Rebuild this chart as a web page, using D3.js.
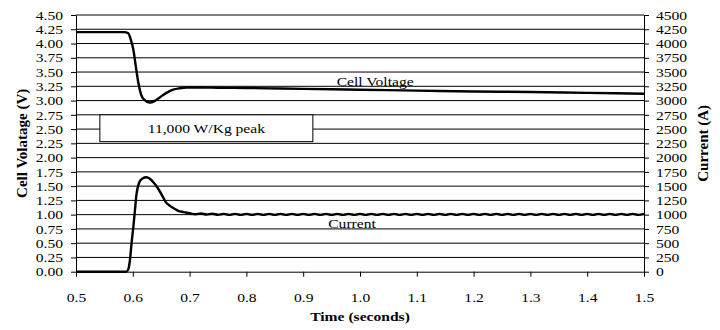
<!DOCTYPE html>
<html>
<head>
<meta charset="utf-8">
<script src="https://cdn.jsdelivr.net/npm/d3@7"></script>
<style>
  body { margin: 0; background: #fff; }
  svg { display: block; font-family: "Liberation Serif", "Times New Roman", serif; }
</style>
</head>
<body>
<div id="chart"></div>
<script>
// voltage trace (seconds, volts)
var voltTime = [0.50, 0.585, 0.592, 0.597, 0.601, 0.606, 0.610, 0.616, 0.622, 0.630, 0.638, 0.648, 0.660, 0.671, 0.683, 0.695, 0.72, 0.75, 0.80, 0.90, 1.00, 1.10, 1.20, 1.30, 1.40, 1.50];
var voltValue = [4.20, 4.20, 4.18, 4.05, 3.89, 3.55, 3.30, 3.07, 3.00, 2.965, 2.99, 3.06, 3.14, 3.19, 3.215, 3.228, 3.23, 3.225, 3.22, 3.205, 3.19, 3.175, 3.16, 3.15, 3.135, 3.12];

// current trace (seconds, amps)
var currTime = [0.50, 0.588, 0.592, 0.595, 0.598, 0.601, 0.604, 0.606, 0.611, 0.617, 0.624, 0.630, 0.637, 0.645, 0.652, 0.658, 0.666, 0.674, 0.680, 0.690,
  0.70, 0.71, 0.72, 0.73, 0.74, 0.75, 0.76, 0.77, 0.78, 0.79, 0.80, 0.81, 0.82, 0.83, 0.84, 0.85, 0.86, 0.87, 0.88, 0.89,
  0.90, 0.91, 0.92, 0.93, 0.94, 0.95, 0.96, 0.97, 0.98, 0.99, 1.00, 1.01, 1.02, 1.03, 1.04, 1.05, 1.06, 1.07, 1.08, 1.09,
  1.10, 1.11, 1.12, 1.13, 1.14, 1.15, 1.16, 1.17, 1.18, 1.19, 1.20, 1.21, 1.22, 1.23, 1.24, 1.25, 1.26, 1.27, 1.28, 1.29,
  1.30, 1.31, 1.32, 1.33, 1.34, 1.35, 1.36, 1.37, 1.38, 1.39, 1.40, 1.41, 1.42, 1.43, 1.44, 1.45, 1.46, 1.47, 1.48, 1.49, 1.50];
var currValue = [0, 0, 40, 205, 520, 790, 1100, 1315, 1555, 1635, 1655, 1630, 1560, 1450, 1330, 1220, 1150, 1100, 1065, 1045,
  1025, 1008, 1020, 1002, 1016, 998, 1014, 996, 1014, 996, 1014, 996, 1014, 996, 1014, 996, 1014, 996, 1014, 996,
  1014, 996, 1014, 996, 1014, 996, 1014, 996, 1014, 996, 1014, 996, 1014, 996, 1014, 996, 1014, 996, 1014, 996,
  1014, 996, 1014, 996, 1014, 996, 1014, 996, 1014, 996, 1014, 996, 1014, 996, 1014, 996, 1014, 996, 1014, 996,
  1014, 996, 1014, 996, 1014, 996, 1014, 996, 1014, 996, 1014, 996, 1014, 996, 1014, 996, 1014, 996, 1014, 996, 1014];

var timeTicks = [0.5, 0.6, 0.7, 0.8, 0.9, 1.0, 1.1, 1.2, 1.3, 1.4, 1.5];
var voltTicks = [0, 0.25, 0.5, 0.75, 1, 1.25, 1.5, 1.75, 2, 2.25, 2.5, 2.75, 3, 3.25, 3.5, 3.75, 4, 4.25, 4.5];
var currTicks = [0, 250, 500, 750, 1000, 1250, 1500, 1750, 2000, 2250, 2500, 2750, 3000, 3250, 3500, 3750, 4000, 4250, 4500];

var width = 720, height = 330;
var margin = { top: 15, right: 76, bottom: 58.3, left: 76 };
var sx = 1.2; // text in the source is drawn wider than tall
var fs = "13px";

var svg = d3.select("#chart").append("svg")
  .attr("width", width)
  .attr("height", height);

var x = d3.scaleLinear().domain([0.5, 1.5]).range([margin.left, width - margin.right]);
var yV = d3.scaleLinear().domain([0, 4.5]).range([height - margin.bottom, margin.top]);
var yI = d3.scaleLinear().domain([0, 4500]).range([height - margin.bottom, margin.top]);

// horizontal gridlines
svg.append("g")
  .selectAll("line")
  .data(voltTicks.slice(1))
  .enter()
  .append("line")
  .attr("x1", x(0.5))
  .attr("x2", x(1.5))
  .attr("y1", function(d) { return yV(d); })
  .attr("y2", function(d) { return yV(d); })
  .attr("stroke", "#000")
  .attr("stroke-width", 1);

// axes
var leftAxis = svg.append("g")
  .attr("transform", "translate(" + margin.left + ",0)")
  .call(d3.axisLeft(yV).tickValues(voltTicks).tickFormat(d3.format(".2f")).tickSizeInner(5).tickSizeOuter(0).tickPadding(8));

var rightAxis = svg.append("g")
  .attr("transform", "translate(" + (width - margin.right) + ",0)")
  .call(d3.axisRight(yI).tickValues(currTicks).tickFormat(d3.format("d")).tickSizeInner(5).tickSizeOuter(0).tickPadding(7));

var bottomAxis = svg.append("g")
  .attr("transform", "translate(0," + (height - margin.bottom) + ")")
  .call(d3.axisBottom(x).tickValues(timeTicks).tickFormat(d3.format(".1f")).tickSizeInner(5).tickSizeOuter(0).tickPadding(16));

[leftAxis, rightAxis, bottomAxis].forEach(function(g) {
  g.select(".domain").attr("stroke", "#000");
  g.selectAll(".tick line").attr("stroke", "#000");
  g.selectAll(".tick text")
    .attr("fill", "#000")
    .style("font-family", "'Liberation Serif', serif")
    .style("font-size", fs);
});

leftAxis.selectAll(".tick text")
  .attr("x", -13 / sx)
  .attr("transform", "scale(" + sx + ",1)");
rightAxis.selectAll(".tick text")
  .attr("x", 12 / sx)
  .attr("transform", "scale(" + sx + ",1)");
bottomAxis.selectAll(".tick text")
  .attr("transform", "scale(" + sx + ",1)");

// axis titles
svg.append("text")
  .attr("transform", "translate(" + (width / 2) + "," + 321 + ") scale(" + sx + ",1)")
  .attr("text-anchor", "middle")
  .style("font-weight", "bold")
  .style("font-size", fs)
  .text("Time (seconds)");

svg.append("text")
  .attr("transform", "translate(27," + ((margin.top + height - margin.bottom) / 2) + ") rotate(-90)")
  .attr("text-anchor", "middle")
  .style("font-weight", "bold")
  .style("font-size", "15px")
  .text("Cell Volatage (V)");

svg.append("text")
  .attr("transform", "translate(708," + ((margin.top + height - margin.bottom) / 2) + ") rotate(-90)")
  .attr("text-anchor", "middle")
  .style("font-weight", "bold")
  .style("font-size", "15px")
  .text("Current (A)");

// curves
var voltLine = d3.line()
  .curve(d3.curveMonotoneX)
  .x(function(d, i) { return x(voltTime[i]); })
  .y(function(d) { return yV(d); });

var currLine = d3.line()
  .curve(d3.curveMonotoneX)
  .x(function(d, i) { return x(currTime[i]); })
  .y(function(d) { return yI(d); });

svg.append("path")
  .attr("d", currLine(currValue))
  .attr("fill", "none")
  .attr("stroke", "#000")
  .attr("stroke-width", 2.4)
  .attr("stroke-linejoin", "round");

svg.append("path")
  .attr("d", voltLine(voltValue))
  .attr("fill", "none")
  .attr("stroke", "#000")
  .attr("stroke-width", 2.4)
  .attr("stroke-linejoin", "round");

// series labels
svg.append("text")
  .attr("transform", "translate(" + x(0.959) + "," + yV(3.26) + ") scale(" + sx + ",1)")
  .style("font-size", fs)
  .text("Cell Voltage");

svg.append("text")
  .attr("transform", "translate(" + x(0.944) + "," + yI(770) + ") scale(" + sx + ",1)")
  .style("font-size", fs)
  .text("Current");

// annotation box
var box = { t0: 0.542, t1: 0.917, v0: 2.28, v1: 2.75 };
svg.append("rect")
  .attr("x", x(box.t0))
  .attr("y", yV(box.v1))
  .attr("width", x(box.t1) - x(box.t0))
  .attr("height", yV(box.v0) - yV(box.v1))
  .attr("fill", "#fff")
  .attr("stroke", "#000")
  .attr("stroke-width", 1);

svg.append("text")
  .attr("transform", "translate(" + ((x(box.t0) + x(box.t1)) / 2) + "," + (yV((box.v0 + box.v1) / 2) + 4.5) + ") scale(" + sx + ",1)")
  .attr("text-anchor", "middle")
  .style("font-size", fs)
  .text("11,000 W/Kg peak");
</script>
</body>
</html>
